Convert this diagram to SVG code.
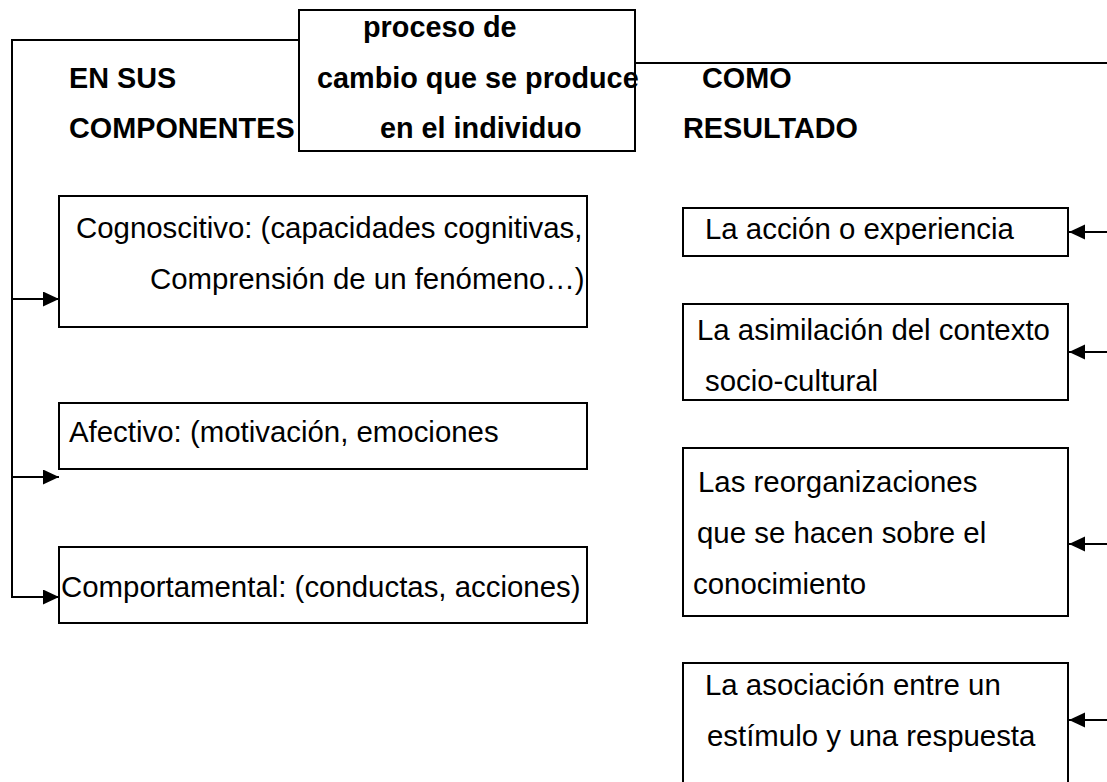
<svg xmlns="http://www.w3.org/2000/svg" width="1107" height="782" viewBox="0 0 1107 782">
<style>
.box{fill:#fff;stroke:#000;stroke-width:2}
.t{font-family:"Liberation Sans",Arial,sans-serif;font-size:29.4px;fill:#000}
.b{font-weight:bold;font-size:28.8px}
.c{fill:none;stroke:#000;stroke-width:2}
</style>
<defs>
<marker id="ah" markerUnits="userSpaceOnUse" markerWidth="17" markerHeight="16" refX="16" refY="7.5" orient="auto">
<path d="M0,0 L16,7.5 L0,15 Z" fill="#000"/>
</marker>
</defs>
<rect width="1107" height="782" fill="#fff"/>
<g id="connectors">
<polyline class="c" points="299,40 12,40 12,597 59,597" marker-end="url(#ah)"/>
<line class="c" x1="12" y1="299" x2="59" y2="299" marker-end="url(#ah)"/>
<line class="c" x1="12" y1="477" x2="59" y2="477" marker-end="url(#ah)"/>
<line class="c" x1="635" y1="63" x2="1107" y2="63"/>
<line class="c" x1="1107" y1="232" x2="1069" y2="232" marker-end="url(#ah)"/>
<line class="c" x1="1107" y1="352" x2="1069" y2="352" marker-end="url(#ah)"/>
<line class="c" x1="1107" y1="544" x2="1069" y2="544" marker-end="url(#ah)"/>
<line class="c" x1="1107" y1="720" x2="1069" y2="720" marker-end="url(#ah)"/>
</g>
<g id="label-componentes">
<text class="t b" x="69" y="88">EN SUS</text>
<text class="t b" x="69" y="138">COMPONENTES</text>
</g>
<g id="label-resultado">
<text class="t b" x="702" y="88">COMO</text>
<text class="t b" x="683" y="138">RESULTADO</text>
</g>
<g id="node-proceso">
<rect class="box" x="299" y="10" width="336" height="141"/>
<text class="t b" x="363" y="37">proceso de</text>
<text class="t b" x="317" y="88">cambio que se produce</text>
<text class="t b" x="380" y="138">en el individuo</text>
</g>
<g id="node-cognoscitivo">
<rect class="box" x="59" y="196" width="528" height="131"/>
<text class="t" x="76" y="238">Cognoscitivo: (capacidades cognitivas,</text>
<text class="t" x="150" y="289">Comprensión de un fenómeno…)</text>
</g>
<g id="node-afectivo">
<rect class="box" x="59" y="403" width="528" height="66"/>
<text class="t" x="69" y="442">Afectivo: (motivación, emociones</text>
</g>
<g id="node-comportamental">
<rect class="box" x="59" y="547" width="528" height="76"/>
<text class="t" x="61" y="597">Comportamental: (conductas, acciones)</text>
</g>
<g id="node-accion">
<rect class="box" x="683" y="208" width="385" height="48"/>
<text class="t" x="705" y="239">La acción o experiencia</text>
</g>
<g id="node-asimilacion">
<rect class="box" x="683" y="304" width="385" height="96"/>
<text class="t" x="697" y="340">La asimilación del contexto</text>
<text class="t" x="705" y="391">socio-cultural</text>
</g>
<g id="node-reorganizaciones">
<rect class="box" x="683" y="448" width="385" height="168"/>
<text class="t" x="698" y="492">Las reorganizaciones</text>
<text class="t" x="697" y="543">que se hacen sobre el</text>
<text class="t" x="693" y="594">conocimiento</text>
</g>
<g id="node-asociacion">
<rect class="box" x="683" y="663" width="385" height="140"/>
<text class="t" x="705" y="695">La asociación entre un</text>
<text class="t" x="707" y="746">estímulo y una respuesta</text>
</g>
</svg>
